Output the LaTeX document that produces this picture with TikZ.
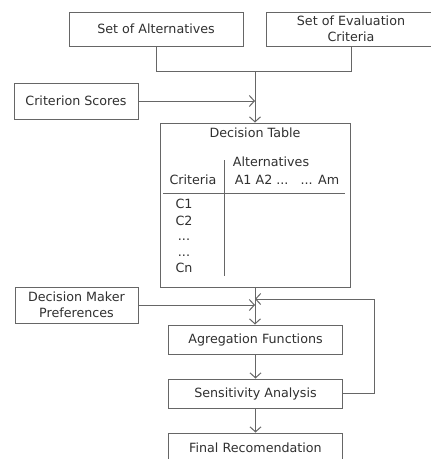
\documentclass[tikz,border=0pt]{standalone}
\usepackage{fontspec}
\setmainfont{DejaVu Sans}
\usetikzlibrary{arrows.meta}
\definecolor{linegray}{HTML}{666666}
\definecolor{textgray}{HTML}{303030}
\begin{document}
\begin{tikzpicture}[x=1pt,y=-1pt,
  every node/.style={text=textgray, font=\fontsize{12.7}{16}\selectfont},
  box/.style={draw=linegray, line width=1pt, rectangle, inner sep=0pt, align=center},
  conn/.style={draw=linegray, line width=1pt},
  arr/.style={conn, -{Straight Barb[length=5pt,width=11pt,line width=1pt]}},
  cell/.style={anchor=base, inner sep=0pt}]
\path[use as bounding box, clip] (0,0) rectangle (431,459);
\fill[white] (0,0) rectangle (431,459);

\node[box, minimum width=174pt, minimum height=34pt] (alt) at (156,29) {Set of Alternatives};
\node[box, minimum width=170pt, minimum height=34pt] (crit) at (351,29) {Set of Evaluation\\Criteria};
\node[box, minimum width=124pt, minimum height=36pt] (cs) at (76,101) {Criterion Scores};
\node[box, minimum width=190pt, minimum height=164pt] (dt) at (255,205) {};
\node[box, minimum width=123pt, minimum height=36pt] (dmp) at (76.5,305) {Decision Maker\\Preferences};
\node[box, minimum width=174pt, minimum height=29pt] (agg) at (255.5,339.5) {Agregation Functions};
\node[box, minimum width=174pt, minimum height=29pt] (sens) at (255.5,393.5) {Sensitivity Analysis};
\node[box, minimum width=174pt, minimum height=29pt] (fin) at (255.5,447.5) {Final Recomendation};

% decision table contents
\node[cell] (dtt) at (255,137.5) {Decision Table};
\node[cell] (altl) at (271,166.5) {Alternatives};
\node[cell] (critl) at (193,184.5) {Criteria};
\node[cell] (alist) at (287,184.5) {A1 A2 ...\ \ \ ... Am};
\node[cell] (c1) at (184,208) {C1};
\node[cell] (c2) at (184,225) {C2};
\node[cell] (d1) at (184,240) {...};
\node[cell] (d2) at (184,256) {...};
\node[cell] (cn) at (184,272) {Cn};
\draw[conn] (163,193) -- (345,193);
\draw[conn] (224,160) -- (224,276);

% connectors
\coordinate (j) at (255,71.5);
\coordinate (fb) at (255,299);
\coordinate (fbc) at (374,299);
\draw[conn] (alt.south) |- (j);
\draw[conn] (crit.south) |- (j);
\draw[arr] (j) -- (dt.north);
\draw[arr] (cs.east) -- (cs.east -| dt.north);
\draw[arr] (dt.south) -- (dt.south |- agg.north);
\draw[arr] (dmp.east) -- (dmp.east -| dt.south);
\draw[arr] (sens.east) -| (fbc) -- (fb);
\draw[arr] (agg.south) -- (sens.north);
\draw[arr] (sens.south) -- (fin.north);
\end{tikzpicture}
\end{document}
